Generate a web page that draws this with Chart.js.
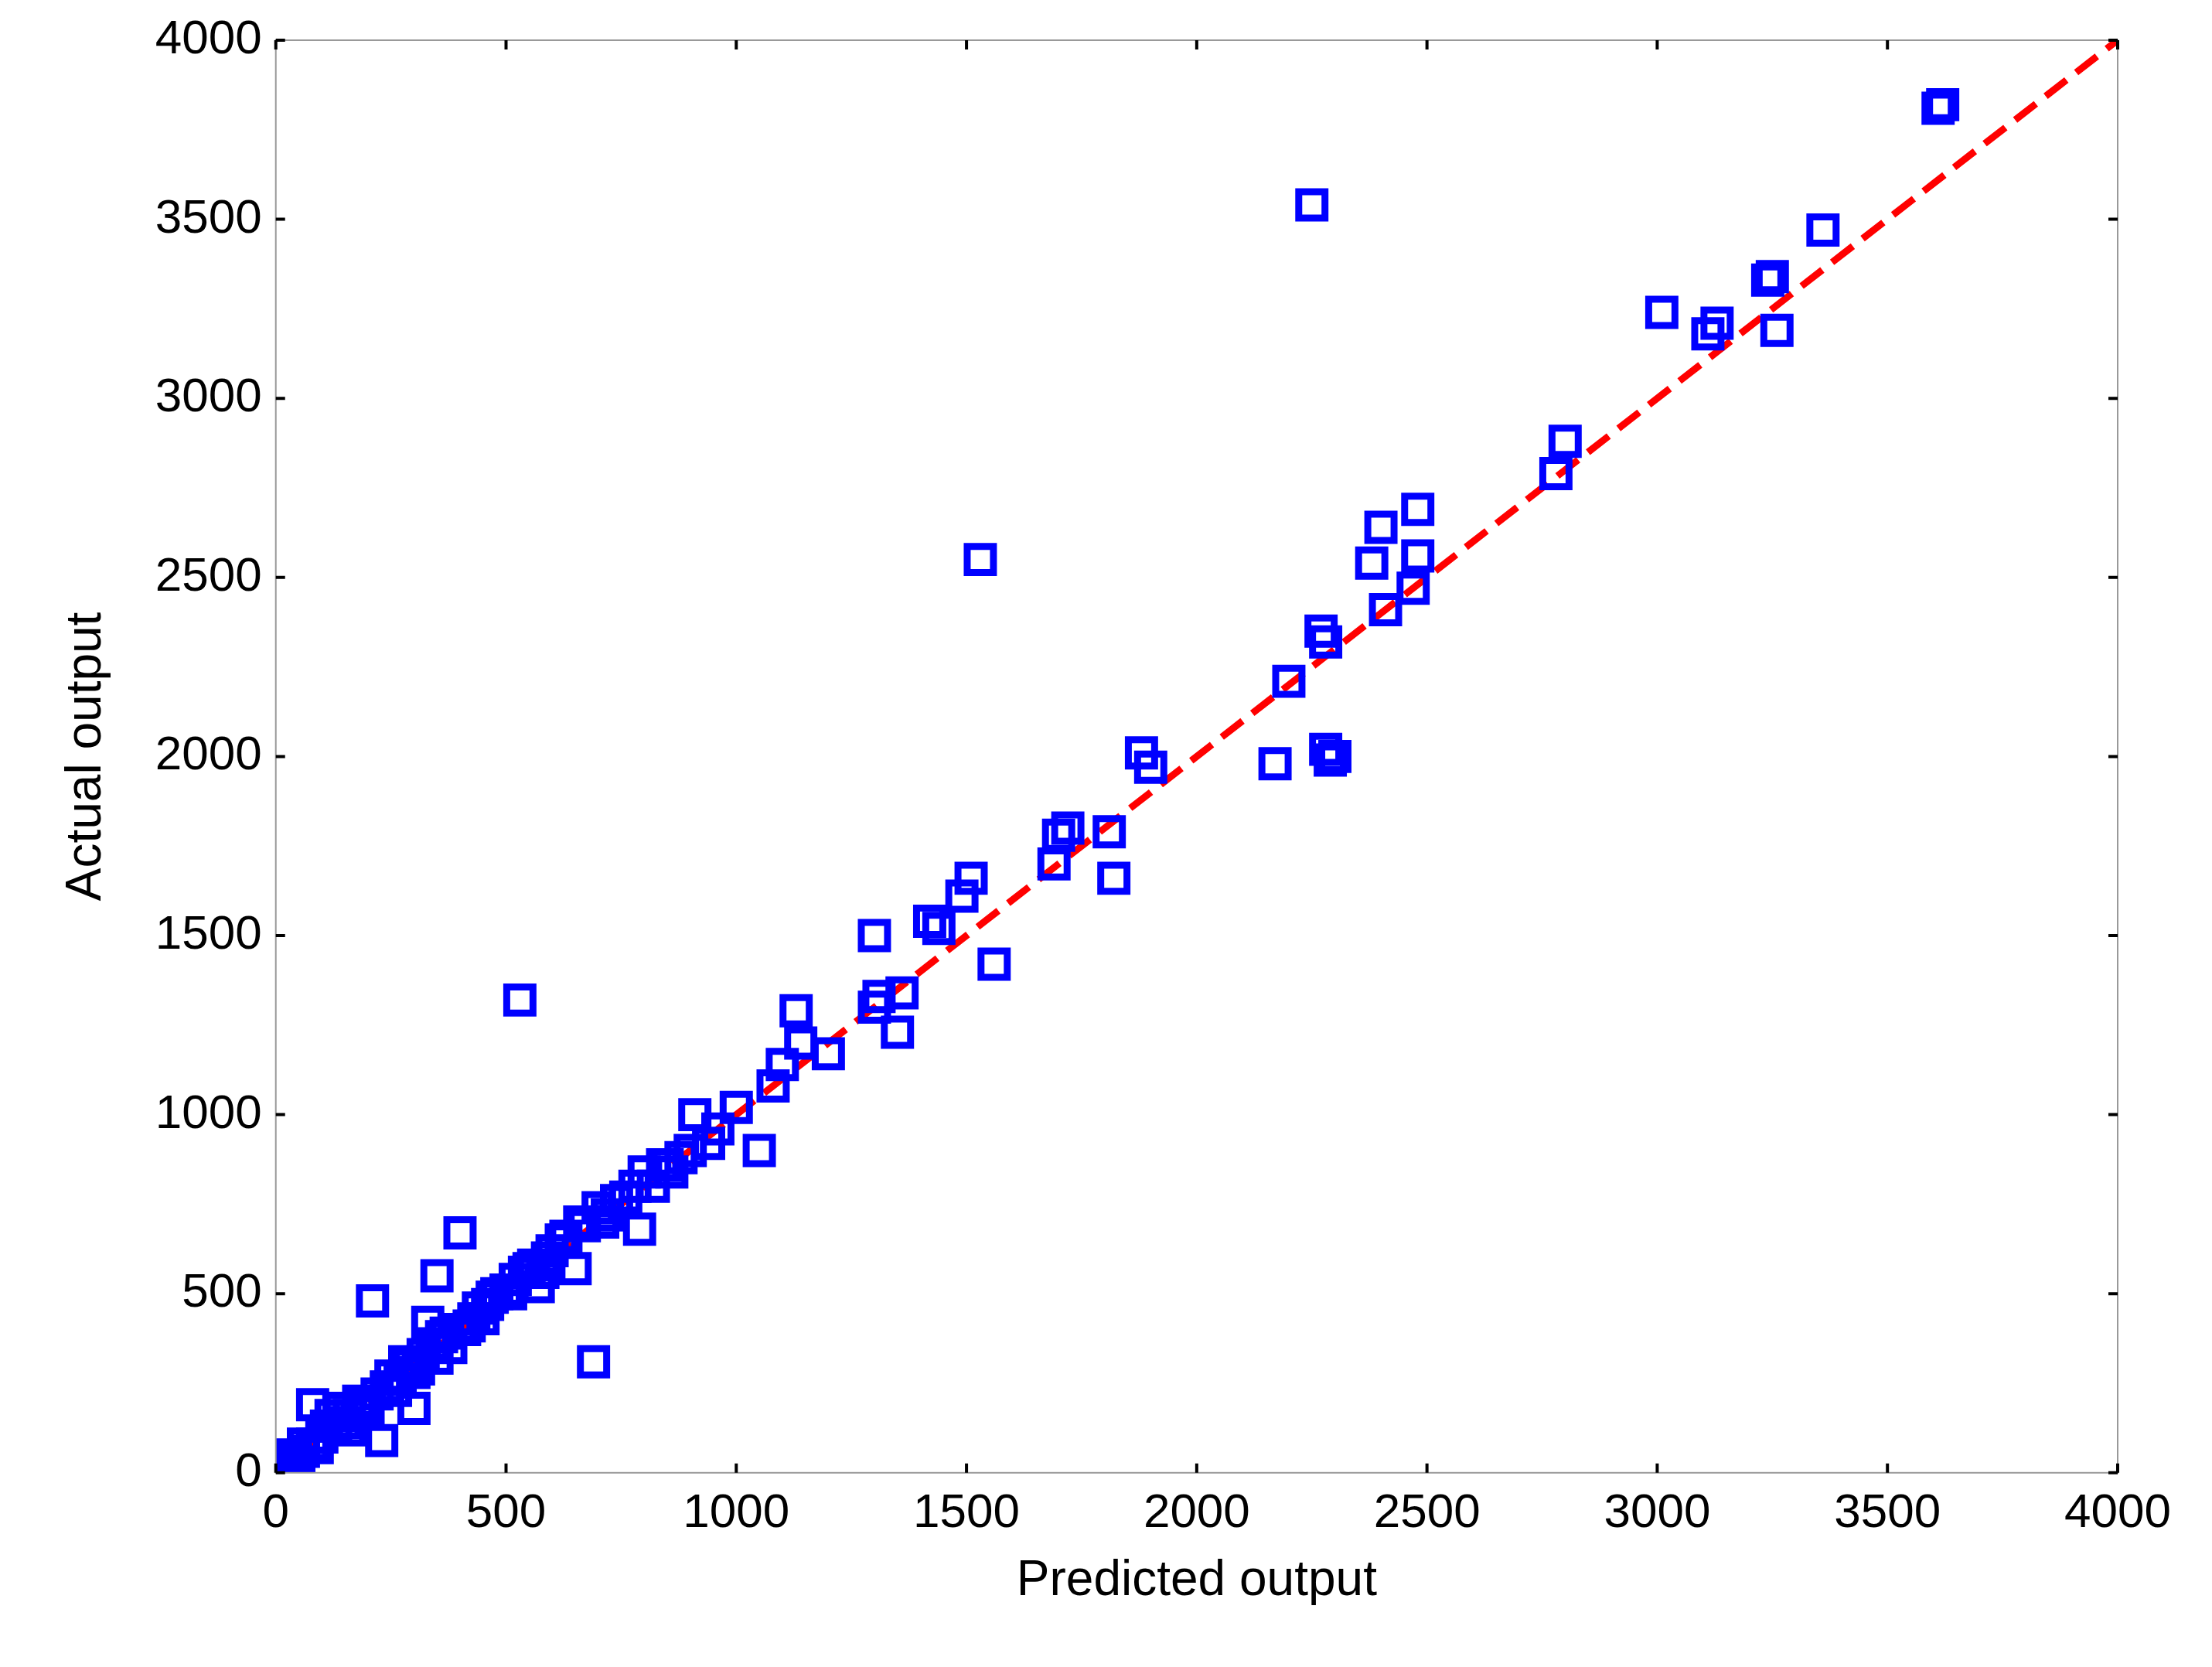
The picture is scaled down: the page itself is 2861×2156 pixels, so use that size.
<!DOCTYPE html>
<html>
<head>
<script src="https://cdn.jsdelivr.net/npm/chart.js"></script>
<style>body{margin:0;background:#fff}</style>
</head>
<body>
<canvas id="myChart" width="2861" height="2156"></canvas>
<script>
// predicted vs actual values
const predicted = [3620,3610,2250,3360,3250,3240,3010,3130,3110,3260,2800,2780,2480,2400,2480,2380,2470,2410,2270,2280,1530,2200,1880,1900,2170,2280,2300,2290,1720,1700,1810,1690,1820,1510,1490,1420,1440,1300,1560,1360,1310,1300,1350,530,1130,1140,1200,1100,1080,1050,1000,960,910,940,880,840,800,780,790,740,700,690,660,650,600,560,570,520,500,460,400,350,430,400,360,330,320,300,300,270,240,210,220,230,190,160,130,100,80,80,60,40,20,10,5,120,160,280,350,450,480,620,720,820,860,140,200,260,310,380,420,540,580,30,50,0,250,290,340,370,410,440,470,510,550,590,630,670,710,760,850,900,60,90,110,150,180,200,15,35];
const actual = [3820,3810,3540,3470,3340,3330,3240,3210,3180,3190,2880,2790,2690,2640,2560,2540,2470,2410,2350,2320,2550,2210,2010,1970,1980,2020,2000,1990,1800,1780,1790,1700,1660,1660,1610,1540,1520,1500,1420,1340,1330,1300,1230,1320,1290,1200,1170,1140,1080,900,1020,960,1000,920,880,860,840,800,680,760,740,310,700,570,620,580,520,540,510,470,670,550,430,400,380,420,330,280,180,260,240,480,220,90,190,160,130,100,190,80,60,40,20,10,5,160,120,310,320,430,500,650,720,800,840,180,170,230,290,350,410,560,560,50,30,0,270,300,360,390,400,460,490,500,570,600,660,690,700,770,860,900,80,70,130,140,200,180,30,15];
const tickValues = [0,500,1000,1500,2000,2500,3000,3500,4000];

const points = predicted.map((p, i) => ({x: p, y: actual[i]}));

const frame = {
  id: 'frame',
  afterDraw(chart) {
    const {ctx, chartArea: a, scales} = chart;
    ctx.save();
    ctx.strokeStyle = '#999';
    ctx.lineWidth = 2;
    ctx.strokeRect(a.left, a.top, a.right - a.left, a.bottom - a.top);
    ctx.strokeStyle = '#000';
    ctx.lineWidth = 4;
    const L = 12;
    tickValues.forEach(v => {
      const x = scales.x.getPixelForValue(v);
      const y = scales.y.getPixelForValue(v);
      ctx.beginPath();
      ctx.moveTo(x, a.bottom); ctx.lineTo(x, a.bottom - L);
      ctx.moveTo(x, a.top); ctx.lineTo(x, a.top + L);
      ctx.moveTo(a.left, y); ctx.lineTo(a.left + L, y);
      ctx.moveTo(a.right, y); ctx.lineTo(a.right - L, y);
      ctx.stroke();
    });
    ctx.restore();
  }
};

const axisCommon = {
  type: 'linear', min: 0, max: 4000,
  grid: {display: false},
  border: {display: false},
  afterBuildTicks: s => { s.ticks = tickValues.map(v => ({value: v})); }
};
const tickFont = {family: 'Liberation Sans', size: 62};

new Chart(document.getElementById('myChart'), {
  type: 'scatter',
  data: {
    datasets: [
      {
        data: points,
        pointStyle: 'rect',
        pointRadius: 24,
        borderColor: '#0000ff',
        backgroundColor: 'rgba(0,0,0,0)',
        borderWidth: 9
      },
      {
        type: 'line',
        data: [{x: 0, y: 0}, {x: 4000, y: 4000}],
        borderColor: '#ff0000',
        borderWidth: 9,
        borderDash: [34, 16],
        pointRadius: 0,
        fill: false
      }
    ]
  },
  options: {
    responsive: false,
    animation: false,
    layout: {padding: {top: 52, right: 122, left: 70, bottom: 68}},
    plugins: {legend: {display: false}, tooltip: {enabled: false}},
    scales: {
      x: Object.assign({}, axisCommon, {
        ticks: {font: tickFont, color: '#000', padding: 8, maxRotation: 0, callback: v => String(v)},
        title: {display: true, text: 'Predicted output', font: {family: 'Liberation Sans', size: 64}, color: '#000', padding: {top: 4}}
      }),
      y: Object.assign({}, axisCommon, {
        ticks: {font: tickFont, color: '#000', padding: 10, callback: v => String(v)},
        title: {display: true, text: 'Actual output', font: {family: 'Liberation Sans', size: 64}, color: '#000', padding: {bottom: 40}}
      })
    }
  },
  plugins: [frame]
});
</script>
</body>
</html>
